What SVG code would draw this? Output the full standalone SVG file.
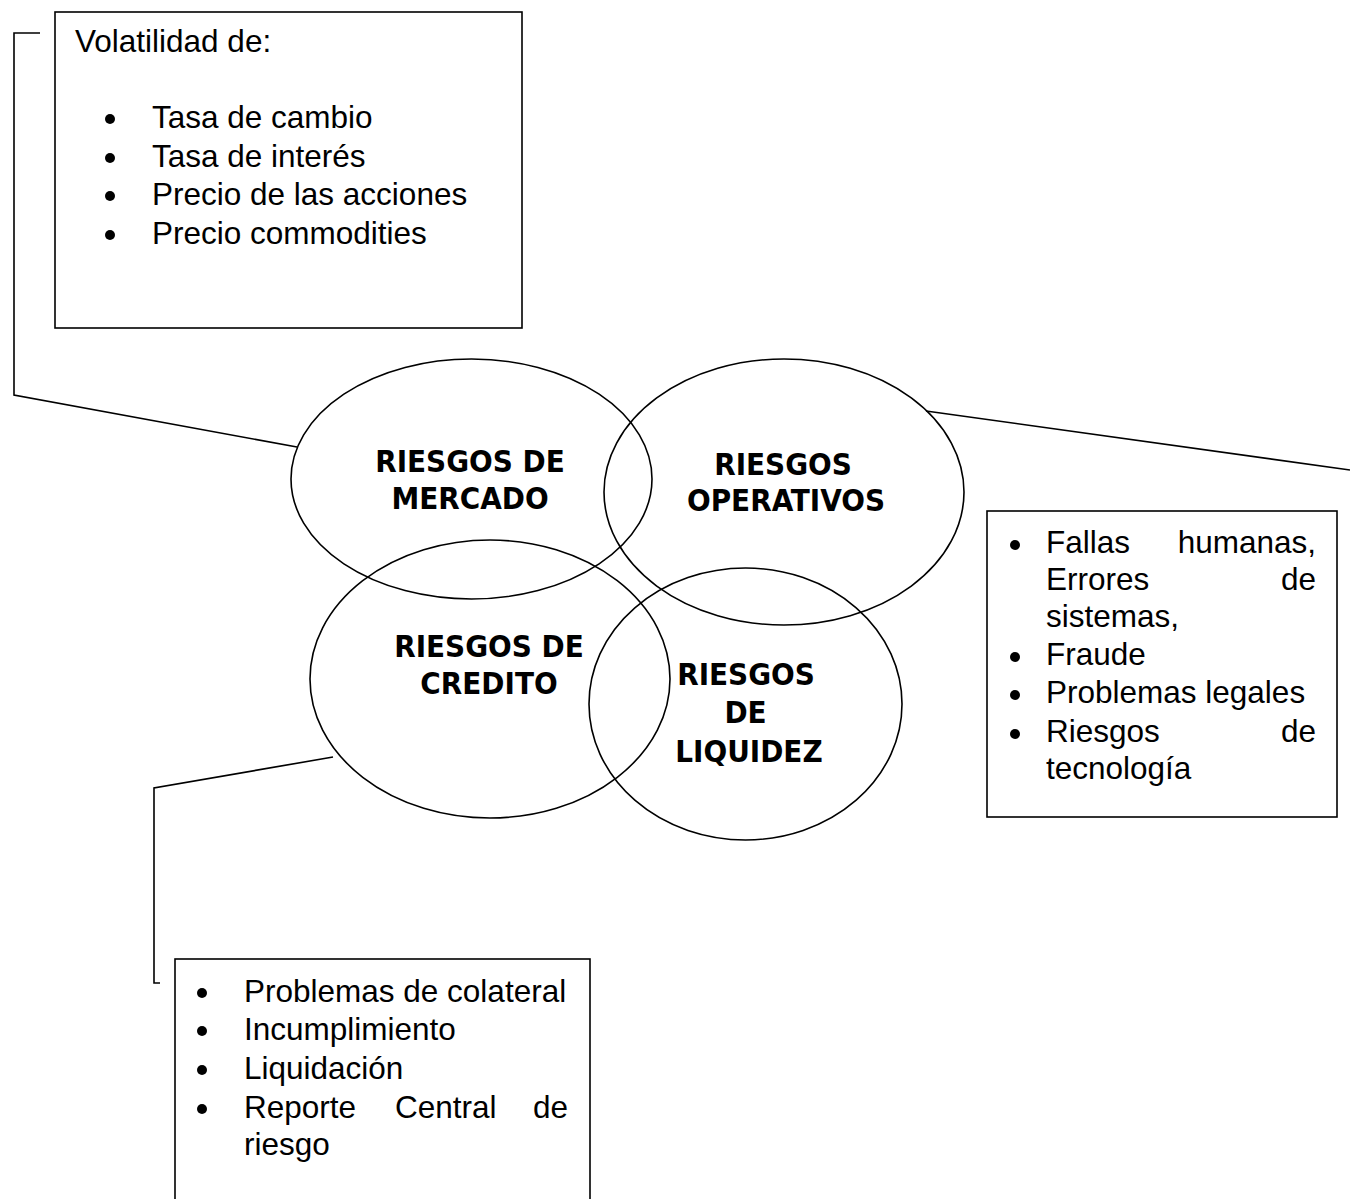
<svg xmlns="http://www.w3.org/2000/svg" width="1350" height="1199" viewBox="0 0 1350 1199">
<style>
.bg{fill:#fff}
.box{fill:#fff;stroke:#000;stroke-width:1.6}
.ell{fill:none;stroke:#000;stroke-width:1.6}
.con{fill:none;stroke:#000;stroke-width:1.6}
.t{font-family:"Liberation Sans",Arial,sans-serif;font-size:31.5px;fill:#000}
.h{font-family:"DejaVu Sans Condensed","DejaVu Sans",Verdana,sans-serif;font-weight:bold;font-size:31px;fill:#000;text-anchor:middle}
.b{fill:#000}
</style>
<rect class="bg" x="0" y="0" width="1350" height="1199"/>
<g id="connectors">
<polyline class="con" points="40,33 14,33 14,395 297,447"/>
<line class="con" x1="926" y1="411" x2="1350" y2="470"/>
<polyline class="con" points="333,757 154,788 154,983 160,983"/>
</g>
<g id="box-mercado">
<rect class="box" x="55" y="12" width="467" height="316"/>
<text class="t" x="75" y="52">Volatilidad de:</text>
<circle class="b" cx="110" cy="119" r="5"/>
<text class="t" x="152" y="128">Tasa de cambio</text>
<circle class="b" cx="110" cy="158" r="5"/>
<text class="t" x="152" y="167">Tasa de interés</text>
<circle class="b" cx="110" cy="196" r="5"/>
<text class="t" x="152" y="205">Precio de las acciones</text>
<circle class="b" cx="110" cy="235" r="5"/>
<text class="t" x="152" y="244">Precio commodities</text>
</g>
<g id="box-operativos">
<rect class="box" x="987" y="511" width="350" height="306"/>
<circle class="b" cx="1015" cy="545" r="5"/>
<text class="t" x="1046" y="553">Fallas</text>
<text class="t" x="1316" y="553" text-anchor="end">humanas,</text>
<text class="t" x="1046" y="590">Errores</text>
<text class="t" x="1316" y="590" text-anchor="end">de</text>
<text class="t" x="1046" y="627">sistemas,</text>
<circle class="b" cx="1015" cy="657" r="5"/>
<text class="t" x="1046" y="665">Fraude</text>
<circle class="b" cx="1015" cy="695" r="5"/>
<text class="t" x="1046" y="703">Problemas legales</text>
<circle class="b" cx="1015" cy="734" r="5"/>
<text class="t" x="1046" y="742">Riesgos</text>
<text class="t" x="1316" y="742" text-anchor="end">de</text>
<text class="t" x="1046" y="779">tecnología</text>
</g>
<g id="box-credito">
<rect class="box" x="175" y="959" width="415" height="260"/>
<circle class="b" cx="202" cy="993" r="5"/>
<text class="t" x="244" y="1002">Problemas de colateral</text>
<circle class="b" cx="202" cy="1031" r="5"/>
<text class="t" x="244" y="1040">Incumplimiento</text>
<circle class="b" cx="202" cy="1070" r="5"/>
<text class="t" x="244" y="1079">Liquidación</text>
<circle class="b" cx="202" cy="1109" r="5"/>
<text class="t" x="244" y="1118">Reporte</text>
<text class="t" x="395" y="1118">Central</text>
<text class="t" x="568" y="1118" text-anchor="end">de</text>
<text class="t" x="244" y="1155">riesgo</text>
</g>
<g id="node-mercado">
<ellipse class="ell" cx="471.5" cy="479" rx="180.5" ry="120"/>
<text class="h" x="470" y="472">RIESGOS DE</text>
<text class="h" x="470" y="509">MERCADO</text>
</g>
<g id="node-operativos">
<ellipse class="ell" cx="784" cy="492" rx="180" ry="133"/>
<text class="h" x="783" y="475">RIESGOS</text>
<text class="h" x="786" y="511">OPERATIVOS</text>
</g>
<g id="node-credito">
<ellipse class="ell" cx="490" cy="679" rx="180" ry="139"/>
<text class="h" x="489" y="657">RIESGOS DE</text>
<text class="h" x="489" y="694">CREDITO</text>
</g>
<g id="node-liquidez">
<ellipse class="ell" cx="745.5" cy="704" rx="156.5" ry="136"/>
<text class="h" x="746" y="685">RIESGOS</text>
<text class="h" x="745.5" y="723">DE</text>
<text class="h" x="749" y="762">LIQUIDEZ</text>
</g>
</svg>
